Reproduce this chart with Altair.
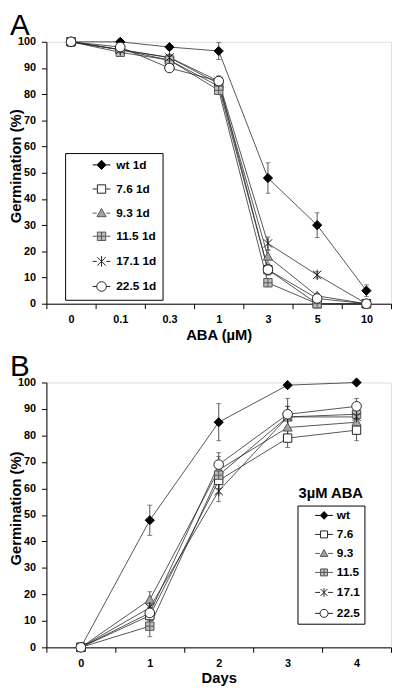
import math
import altair as alt
import pandas as pd

# ---------------- Panel A: germination after 1 day vs ABA ----------------
aba_labels = ['0', '0.1', '0.3', '1', '3', '5', '10']
series_a = ['wt 1d', '7.6 1d', '9.3 1d', '11.5 1d', '17.1 1d', '22.5 1d']
wt_a = [100, 100, 98, 96.5, 48, 30, 5]
l76_a = [100, 97, 93, 83, 13, 0, 0]
l93_a = [100, 97, 94, 84, 18, 3, 0]
l115_a = [100, 96, 93, 81.5, 8, 0, 0]
l171_a = [100, 97, 94, 85, 23, 11, 0]
l225_a = [100, 98, 90, 85, 13, 2, 0]
wt_a_err = [0, 0, 1, 3.3, 5.8, 4.7, 2.2]
l76_a_err = [0, 0.5, 1, 1.5, 2, 0.5, 0]
l93_a_err = [0, 0.5, 1, 2, 2.5, 1, 0]
l115_a_err = [0, 0.5, 1, 1.5, 1.5, 0, 0]
l171_a_err = [0, 0.5, 1, 2, 2.5, 1.2, 0]
l225_a_err = [0, 0.5, 1, 1.5, 2, 1, 0]

# ---------------- Panel B: germination on 3 uM ABA vs days ----------------
day_labels = ['0', '1', '2', '3', '4']
series_b = ['wt', '7.6', '9.3', '11.5', '17.1', '22.5']
wt_b = [0, 48, 85, 99, 100]
l76_b = [0, 12, 63, 79, 82]
l93_b = [0, 18, 67, 83, 85]
l115_b = [0, 8, 65, 87, 88]
l171_b = [0, 15, 59, 87, 87]
l225_b = [0, 13, 69, 88, 91]
wt_b_err = [0, 5.7, 7, 1, 0.5]
l76_b_err = [0, 3, 5, 3.5, 4]
l93_b_err = [0, 3, 5, 4, 3]
l115_b_err = [0, 4, 5, 4, 3]
l171_b_err = [0, 3, 4, 4, 3]
l225_b_err = [0, 3, 4.5, 6, 3]

legend_title_b = '3µM ABA'

FONT = 'Liberation Sans'


def long_df(xs, names, values, errors):
    rows = []
    for name, vals, errs in zip(names, values, errors):
        for x, v, e in zip(xs, vals, errs):
            rows.append({'x': x, 'series': name, 'y': v, 'err': e,
                         'lo': max(v - e, 0), 'hi': v + e})
    return pd.DataFrame(rows)


df_a = long_df(aba_labels, series_a,
               [wt_a, l76_a, l93_a, l115_a, l171_a, l225_a],
               [wt_a_err, l76_a_err, l93_a_err, l115_a_err, l171_a_err, l225_a_err])
df_b = long_df(day_labels, series_b,
               [wt_b, l76_b, l93_b, l115_b, l171_b, l225_b],
               [wt_b_err, l76_b_err, l93_b_err, l115_b_err, l171_b_err, l225_b_err])

# marker glyphs (unit coordinates)
glyphs = [
    'M0,-1.1L1.1,0L0,1.1L-1.1,0Z',                       # diamond
    'M-1,-1H1V1H-1Z',                                    # square
    'M0,-1.1L1.1,0.85H-1.1Z',                            # triangle
    'M-1,-1H1V1H-1Z M0,-1V1 M-1,0H1',                    # square with cross
    'M-1,-1L1,1M-1,1L1,-1M0,-1.25V1.25',                  # asterisk
    'M1.15,0A1.15,1.15,0,1,1,-1.15,0A1.15,1.15,0,1,1,1.15,0Z',  # circle
]
fills = ['black', 'white', '#a3a3a3', '#bdbdbd', 'black', 'white']
strokes = ['black', '#222222', '#555555', '#555555', '#222222', '#222222']


def legend_glyphs(size, half_line):
    u = half_line / (math.sqrt(size) / 2)
    ext = 1.15
    seg = f'M{-u:.2f},0H{-ext}M{ext},0H{u:.2f} '
    return [seg + g for g in glyphs]


def panel(df, xs, names, x_title, height, letter, leg):
    xenc = alt.X('x:N', sort=xs,
                 scale=alt.Scale(type='band', paddingInner=0, paddingOuter=0),
                 axis=alt.Axis(title=x_title, tickBand='extent', labelAngle=0,
                               labelFont=FONT, labelFontSize=11, labelFontWeight='bold',
                               labelColor='black', labelPadding=5,
                               tickSize=5, tickColor='black', domainColor='black',
                               titleFont=FONT, titleFontSize=15, titleFontWeight='bold',
                               titleColor='black', titlePadding=3, grid=False))
    yscale = alt.Scale(domain=[0, 100], nice=False)
    yaxis = alt.Axis(title='Germination (%)', values=list(range(0, 101, 10)),
                     labelOverlap=False,
                     labelFont=FONT, labelFontSize=11, labelFontWeight='bold',
                     labelColor='black', labelPadding=6,
                     tickSize=5, tickColor='black', domainColor='black',
                     titleFont=FONT, titleFontSize=15, titleFontWeight='bold',
                     titleColor='black', titleAngle=270, titleBaseline='top',
                     titleAlign='center', titleX=-38, titleY=height / 2 - 7,
                     grid=False)

    def Y(field):
        return alt.Y(field, scale=yscale, axis=yaxis)

    base = alt.Chart(df)
    lines = base.mark_line(color='#2a2a2a', strokeWidth=0.8).encode(
        x=xenc, y=Y('y:Q'), detail='series:N')
    eb = base.transform_filter('datum.err > 0')
    bars = eb.mark_rule(color='#2a2a2a', strokeWidth=0.8).encode(
        x=xenc, y=Y('lo:Q'), y2='hi:Q')
    cap_hi = eb.mark_tick(color='#2a2a2a', orient='horizontal', size=5,
                          thickness=0.8).encode(x=xenc, y=Y('hi:Q'))
    cap_lo = eb.mark_tick(color='#2a2a2a', orient='horizontal', size=5,
                          thickness=0.8).encode(x=xenc, y=Y('lo:Q'))
    pts = base.mark_point(filled=True, size=leg['msize'], opacity=1, strokeWidth=1).encode(
        x=xenc, y=Y('y:Q'),
        shape=alt.Shape('series:N', scale=alt.Scale(domain=names, range=glyphs), legend=None),
        fill=alt.Fill('series:N', scale=alt.Scale(domain=names, range=fills), legend=None),
        stroke=alt.Stroke('series:N', scale=alt.Scale(domain=names, range=strokes), legend=None),
    )
    lg = alt.Legend(title=None, orient='none', legendX=leg['x'], legendY=leg['y'],
                    strokeColor='black', fillColor='white', padding=leg['pad'],
                    symbolSize=leg['ssize'], symbolStrokeWidth=1, symbolOpacity=1,
                    symbolOffset=leg['soff'], labelOffset=leg['loff'],
                    labelFont=FONT, labelFontSize=12, labelFontWeight='bold',
                    labelColor='black', rowPadding=leg['rowpad'],
                    labelExpr="datum.label + '" + '\u00a0' * leg['nbsp'] + "'")
    lg_glyphs = legend_glyphs(leg['ssize'], 9)
    legend_layer = base.transform_filter('false').mark_point(
        filled=True, opacity=1, strokeWidth=1).encode(
        x=xenc, y=Y('y:Q'),
        shape=alt.Shape('series:N', scale=alt.Scale(domain=names, range=lg_glyphs), legend=lg),
        fill=alt.Fill('series:N', scale=alt.Scale(domain=names, range=fills), legend=lg),
        stroke=alt.Stroke('series:N', scale=alt.Scale(domain=names, range=strokes), legend=lg),
    )
    layers = [lines, bars, cap_hi, cap_lo, pts, legend_layer]
    if leg.get('title'):
        t = alt.Chart(pd.DataFrame({'t': [leg['title']]})).mark_text(
            font=FONT, fontSize=15, fontWeight='bold', color='black',
            align='left', baseline='middle').encode(
            text='t:N', x=alt.value(leg['tx']), y=alt.value(leg['ty']))
        layers.append(t)
    return alt.layer(*layers).resolve_scale(
        shape='independent', fill='independent', stroke='independent'
    ).properties(
        width=350, height=height,
        title=alt.TitleParams(letter, anchor='start', frame='group', dx=-37, offset=-6,
                              fontSize=30, font=FONT, fontWeight='normal', color='black'))


leg_a = dict(x=19, y=113, pad=6, ssize=72, msize=72, soff=25, loff=9, rowpad=10.5, nbsp=9)
leg_b = dict(x=255, y=125, pad=4, ssize=50, msize=72, soff=17, loff=7, rowpad=7.3, nbsp=7,
             title=legend_title_b, tx=256, ty=112)

chart_a = panel(df_a, aba_labels, series_a, 'ABA (µM)', 266, 'A', leg_a)
chart_b = panel(df_b, day_labels, series_b, 'Days', 269, 'B', leg_b)

chart = alt.vconcat(chart_a, chart_b, spacing=8).properties(
    padding={'left': 0, 'top': -3, 'right': 0, 'bottom': 0}
).configure_view(stroke='black', strokeWidth=1).configure(font=FONT)

chart.save('out.html', embed_options={'renderer': 'svg', 'actions': False})
